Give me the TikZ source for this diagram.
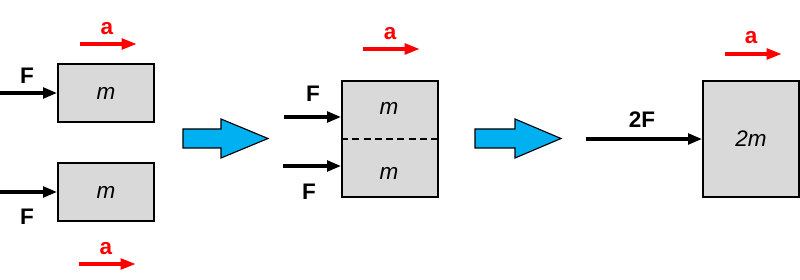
\documentclass[tikz,border=0pt]{standalone}
\usepackage{fontspec}
\setmainfont{Liberation Sans}
\usetikzlibrary{arrows.meta}
\definecolor{boxgray}{HTML}{D9D9D9}
\definecolor{stepblue}{HTML}{00B0F0}
\begin{document}
\begin{tikzpicture}[x=0.025cm, y=-0.025cm, line join=miter,
  massbox/.style={draw, line width=1.2pt, fill=boxgray, inner sep=0pt,
    font=\fontsize{16}{19}\selectfont\itshape},
  force/.style={-{Triangle[length=10pt,width=7.5pt]}, line width=2.4pt},
  accel/.style={red, -{Triangle[length=11pt,width=7.5pt]}, line width=2.7pt},
  flabel/.style={font=\fontsize{16}{19}\selectfont\bfseries, inner sep=0pt},
  alabel/.style={flabel, red},
  bigarrow/.style={fill=stepblue, draw=black, line width=0.8pt}]

% -----------------------
% Page size
% -----------------------
\useasboundingbox (0,0) rectangle (800,280);

% -----------------------
% Two separate blocks
% -----------------------
\node[massbox, minimum width=2.4cm, minimum height=1.45cm] (mtop) at (106,93) {m};
\node[massbox, minimum width=2.4cm, minimum height=1.45cm] (mbot) at (106,192) {m};

% forces on the blocks
\coordinate (ftop) at (0,93);
\coordinate (fbot) at (0,192);
\draw[force] (ftop) -- (mtop.west);
\draw[force] (fbot) -- (mbot.west);
\node[flabel] (Ftop) at (27,76) {F};
\node[flabel] (Fbot) at (27,217) {F};

% accelerations
\node[alabel] (atop) at (107,29) {a};
\coordinate (atops) at (80,44);
\coordinate (atope) at (137,44);
\draw[accel] (atops) -- (atope);
\node[alabel] (abot) at (106,249) {a};
\coordinate (abots) at (79,264);
\coordinate (abote) at (136,264);
\draw[accel] (abots) -- (abote);

% first step arrow
\filldraw[bigarrow] (183,129) -- (221,129) -- (221,119) -- (268,138.5)
  -- (221,158) -- (221,148) -- (183,148) -- cycle;

% -----------------------
% Blocks put together
% -----------------------
\node[massbox, minimum width=2.4cm, minimum height=2.9cm] (mjoin) at (390,139) {};
\draw[dashed, dash pattern=on 5pt off 3pt, line width=1pt] (mjoin.west) -- (mjoin.east);
\node[massbox, draw=none, fill=none] (mup) at (389,108) {m};
\node[massbox, draw=none, fill=none] (mdown) at (389,173) {m};

\coordinate (fup) at (284,117);
\coordinate (fdown) at (283,166);
\draw[force] (fup) -- (fup -| mjoin.west);
\draw[force] (fdown) -- (fdown -| mjoin.west);
\node[flabel] (Fup) at (313,94) {F};
\node[flabel] (Fdown) at (309,192) {F};

\node[alabel] (ajoin) at (390,34) {a};
\coordinate (ajoins) at (363,49);
\coordinate (ajoine) at (420,49);
\draw[accel] (ajoins) -- (ajoine);

% second step arrow
\filldraw[bigarrow] (475,129) -- (515,129) -- (515,119) -- (561,138.5)
  -- (515,158) -- (515,148) -- (475,148) -- cycle;

% -----------------------
% One block of double mass
% -----------------------
\node[massbox, minimum width=2.4cm, minimum height=2.9cm] (mdouble) at (751,139) {2m};

\coordinate (fdouble) at (586,139);
\draw[force] (fdouble) -- (mdouble.west);
\node[flabel] (Fdouble) at (642,120) {2F};

\node[alabel] (adouble) at (751,38) {a};
\coordinate (adoubles) at (725,54);
\coordinate (adoublee) at (782,54);
\draw[accel] (adoubles) -- (adoublee);

\end{tikzpicture}
\end{document}
